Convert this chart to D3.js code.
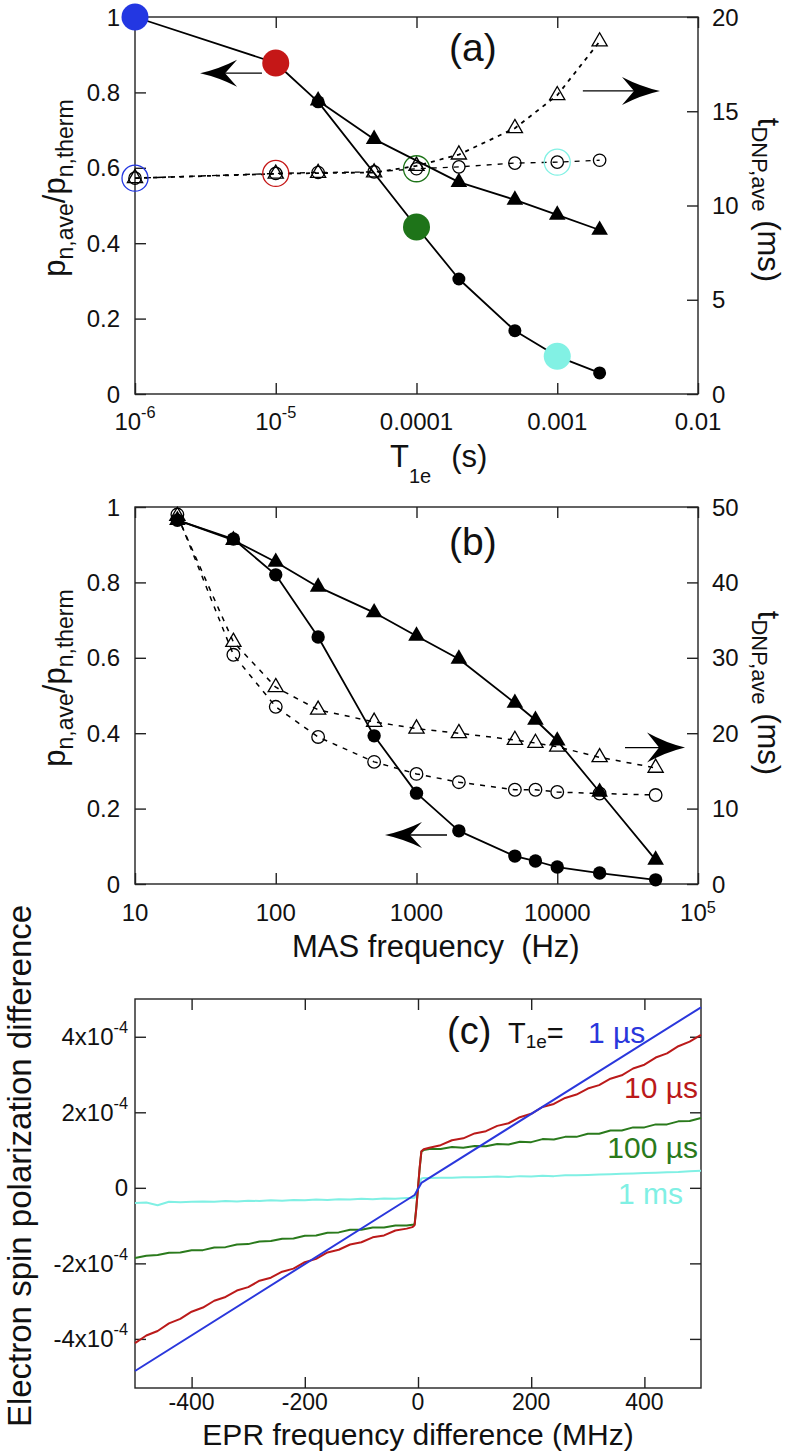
<!DOCTYPE html>
<html><head><meta charset="utf-8">
<script src="https://cdn.jsdelivr.net/npm/d3@7"></script>
<style>body{margin:0;background:#fff}</style>
</head><body><svg id="chart" width="787" height="1451"></svg>
<script>
// ---------------- Panel (a) data ----------------
const aT1eFilledCirc = [1e-6, 1e-5, 2e-5, 1e-4, 2e-4, 5e-4, 1e-3, 2e-3];
const aPnFilledCirc  = [1.0, 0.878, 0.775, 0.443, 0.305, 0.168, 0.10, 0.056];
const aT1eFilledTri  = [2e-5, 5e-5, 2e-4, 5e-4, 1e-3, 2e-3];
const aPnFilledTri   = [0.778, 0.676, 0.562, 0.515, 0.475, 0.435];
const aT1eOpen       = [1e-6, 1e-5, 2e-5, 5e-5, 1e-4, 2e-4, 5e-4, 1e-3, 2e-3];
const aTdnpOpenCirc  = [11.45, 11.7, 11.75, 11.78, 11.95, 12.05, 12.25, 12.3, 12.4];
const aTdnpOpenTri   = [11.45, 11.68, 11.72, 11.75, 12.1, 12.7, 14.1, 15.85, 18.7];
const aHighlightT1e  = [1e-6, 1e-5, 1e-4, 1e-3];
const aHighlightCol  = ["#2337e2", "#c51717", "#1e7419", "#82f1e4"];
const aXTicks = [1e-6, 1e-5, 1e-4, 1e-3, 1e-2];
const aXTickLabels = [["10","-6"], ["10","-5"], ["0.0001",""], ["0.001",""], ["0.01",""]];
const aYLTicks = [0, 0.2, 0.4, 0.6, 0.8, 1];
const aYLTickLabels = ["0", "0.2", "0.4", "0.6", "0.8", "1"];
const aYRTicks = [0, 5, 10, 15, 20];
const aYRTickLabels = ["0", "5", "10", "15", "20"];

// ---------------- Panel (b) data ----------------
const bFreq     = [20, 50, 100, 200, 500, 1000, 2000, 5000, 7000, 10000, 20000, 50000];
const bPnCirc   = [0.965, 0.915, 0.82, 0.655, 0.393, 0.241, 0.141, 0.074, 0.061, 0.045, 0.029, 0.011];
const bPnTri    = [0.965, 0.912, 0.854, 0.788, 0.72, 0.658, 0.597, 0.48, 0.435, 0.38, 0.244, 0.064];
const bTdnpTri  = [48.8, 32.1, 26.1, 23.1, 21.5, 20.6, 20.0, 19.1, 18.7, 18.2, 16.8, 15.4];
const bTdnpCirc = [49.0, 30.4, 23.5, 19.5, 16.2, 14.6, 13.5, 12.5, 12.5, 12.2, 12.0, 11.8];
const bXTicks = [10, 100, 1000, 10000, 100000];
const bXTickLabels = [["10",""], ["100",""], ["1000",""], ["10000",""], ["10","5"]];
const bYLTicks = [0, 0.2, 0.4, 0.6, 0.8, 1];
const bYLTickLabels = ["0", "0.2", "0.4", "0.6", "0.8", "1"];
const bYRTicks = [0, 10, 20, 30, 40, 50];
const bYRTickLabels = ["0", "10", "20", "30", "40", "50"];

// ---------------- Panel (c) data (units of 1e-4) ----------------
const cFreq = [-500,-480,-460,-440,-420,-400,-380,-360,-340,-320,-300,-280,-260,-240,-220,-200,-180,-160,-140,-120,-100,-80,-60,-40,-20,
               -10,-6,-3,0,3,6,10,
               20,40,60,80,100,120,140,160,180,200,220,240,260,280,300,320,340,360,380,400,420,440,460,480,500];
const cRed = [-4.11,-3.91,-3.79,-3.59,-3.47,-3.28,-3.17,-2.99,-2.89,-2.72,-2.63,-2.46,-2.38,-2.22,-2.14,-1.97,-1.88,-1.71,-1.64,-1.50,-1.44,-1.31,-1.26,-1.13,-1.08,
              -1.04,-0.99,-0.55,0.0,0.55,0.97,1.02,
              1.06,1.13,1.26,1.31,1.44,1.50,1.64,1.71,1.87,1.96,2.14,2.22,2.38,2.47,2.63,2.72,2.89,2.98,3.16,3.26,3.45,3.56,3.75,3.87,4.05];
const cGreen = [-1.86,-1.80,-1.78,-1.72,-1.71,-1.65,-1.65,-1.58,-1.57,-1.50,-1.49,-1.42,-1.41,-1.35,-1.34,-1.27,-1.26,-1.19,-1.18,-1.11,-1.11,-1.05,-1.05,-1.00,-1.00,
                -0.98,-0.96,-0.52,0.0,0.52,0.96,1.00,
                1.03,1.03,1.08,1.06,1.11,1.10,1.16,1.15,1.22,1.21,1.29,1.28,1.35,1.35,1.43,1.43,1.52,1.52,1.60,1.60,1.68,1.68,1.76,1.77,1.85];
const cCyan = [-0.40,-0.39,-0.46,-0.37,-0.38,-0.37,-0.36,-0.37,-0.35,-0.36,-0.34,-0.35,-0.33,-0.34,-0.32,-0.33,-0.31,-0.32,-0.30,-0.31,-0.29,-0.30,-0.28,-0.29,-0.27,
               -0.27,-0.26,-0.13,0.0,0.13,0.25,0.26,
               0.26,0.27,0.27,0.28,0.28,0.29,0.30,0.29,0.31,0.30,0.32,0.31,0.33,0.33,0.34,0.35,0.36,0.37,0.38,0.39,0.40,0.41,0.42,0.44,0.45];
const cBlueFreq = [-500, -6, 6, 500];
const cBlue     = [-4.85, -0.19, 0.13, 4.78];
const cXTicks = [-400, -200, 0, 200, 400];
const cXTickLabels = ["-400", "-200", "0", "200", "400"];
const cYTicks = [-4e-4, -2e-4, 0, 2e-4, 4e-4];
const cYTickLabels = [["-4x10","-4"], ["-2x10","-4"], ["0",""], ["2x10","-4"], ["4x10","-4"]];
const cTraceLabels = ["10 µs", "100 µs", "1 ms"];
const cColors = {blue:"#2a37dc", red:"#bb1a1a", green:"#2a7a1c", cyan:"#80f0e4"};

// ---------------- drawing ----------------
const F = '"Liberation Sans", Arial, Helvetica, sans-serif';
const svg = d3.select("#chart");
const INK = "#222";

const xA = d3.scaleLog().domain([1e-6, 1e-2]).range([135, 698]);
const yAL = d3.scaleLinear().domain([0, 1]).range([394, 17]);
const yAR = d3.scaleLinear().domain([0, 20]).range([394, 17]);
const xB = d3.scaleLog().domain([10, 1e5]).range([135, 698]);
const yBL = d3.scaleLinear().domain([0, 1]).range([884, 507]);
const yBR = d3.scaleLinear().domain([0, 50]).range([884, 507]);
const xC = d3.scaleLinear().domain([-500, 500]).range([135, 701]);
const yC = d3.scaleLinear().domain([-5.3e-4, 5e-4]).range([1388, 999]);

function frame(xs, ys) {
  const [x0, x1] = xs.range(), [y1, y0] = ys.range();
  svg.append("rect").attr("x", x0).attr("y", y0).attr("width", x1 - x0).attr("height", y1 - y0)
    .attr("fill", "none").attr("stroke", INK).attr("stroke-width", 1.4);
}
function ticks(axisFn, scale, vals, tx, ty) {
  svg.append("g").attr("transform", `translate(${tx},${ty})`)
    .call(axisFn(scale).tickValues(vals).tickSize(-11).tickFormat(""))
    .call(g => g.select(".domain").remove())
    .selectAll("line").attr("stroke", INK).attr("stroke-width", 1.4);
}
function label(x, y, parts, opts = {}) {
  const t = svg.append("text").attr("x", x).attr("y", y)
    .attr("font-family", F).attr("font-size", opts.fs || 24)
    .attr("text-anchor", opts.anchor || "start").attr("fill", opts.fill || "#111");
  if (opts.rotate) t.attr("transform", `rotate(${opts.rotate},${x},${y})`);
  parts.forEach(p => {
    const s = t.append("tspan").text(p.t);
    if (p.fs) s.attr("font-size", p.fs);
    if (p.dy) s.attr("dy", p.dy);
    if (p.dx) s.attr("dx", p.dx);
  });
  return t;
}
function tickLabelsX(xs, vals, labs, y, fs, supDy = -12) {
  vals.forEach((v, i) => {
    const [b, s] = labs[i];
    const parts = [{t: b}];
    if (s) parts.push({t: s, fs: fs * 0.68, dy: supDy});
    label(xs(v), y, parts, {fs, anchor: "middle"});
  });
}
function tickLabelsY(ys, vals, labs, x, anchor, fs) {
  vals.forEach((v, i) => {
    const l = labs[i];
    if (Array.isArray(l)) {
      const parts = [{t: l[0]}];
      if (l[1]) parts.push({t: l[1], fs: fs * 0.68, dy: -12});
      label(x, ys(v) + 8.5, parts, {fs, anchor});
    } else label(x, ys(v) + 8.5, [{t: l}], {fs, anchor});
  });
}
function path(xs, ys, X, Y, opts) {
  const line = d3.line().x((d, i) => xs(X[i])).y((d, i) => ys(Y[i]));
  svg.append("path").datum(X).attr("d", line).attr("fill", "none")
    .attr("stroke", opts.stroke || "#000").attr("stroke-width", opts.sw || 1.8)
    .attr("stroke-dasharray", opts.dash || null).attr("stroke-linejoin", "round");
}
function circles(xs, ys, X, Y, r, opts) {
  return svg.append("g").selectAll("circle").data(X).join("circle")
    .attr("cx", d => xs(d)).attr("cy", (d, i) => ys(Y[i])).attr("r", r)
    .attr("fill", opts.fill || "#000").attr("stroke", opts.stroke || "none").attr("stroke-width", opts.sw || 1.3);
}
function triangles(xs, ys, X, Y, size, opts) {
  const sym = d3.symbol(d3.symbolTriangle, size);
  svg.append("g").selectAll("path").data(X).join("path")
    .attr("transform", (d, i) => `translate(${xs(d)},${ys(Y[i])})`).attr("d", sym)
    .attr("fill", opts.fill || "#000").attr("stroke", opts.stroke || "none").attr("stroke-width", opts.sw || 1.3);
}
function arrow(xs, ys, xTail, xTip, yv, L, h, n) {
  const tx = xs(xTip), ty = ys(yv), x0 = xs(xTail), d = Math.sign(tx - x0);
  svg.append("line").attr("x1", x0).attr("x2", tx - d * n).attr("y1", ty).attr("y2", ty)
    .attr("stroke", "#000").attr("stroke-width", 1.3);
  const p = d3.path();
  p.moveTo(tx, ty);
  p.quadraticCurveTo(tx - d * L * 0.5, ty - h * 0.3, tx - d * L, ty - h);
  p.lineTo(tx - d * n, ty);
  p.lineTo(tx - d * L, ty + h);
  p.quadraticCurveTo(tx - d * L * 0.5, ty + h * 0.3, tx, ty);
  p.closePath();
  svg.append("path").attr("d", p.toString()).attr("fill", "#000");
}

// ===== Panel (a) =====
frame(xA, yAL);
ticks(d3.axisLeft, yAL, aYLTicks, 135, 0);
ticks(d3.axisRight, yAR, aYRTicks, 698, 0);
ticks(d3.axisBottom, xA, aXTicks, 0, 394);
ticks(d3.axisTop, xA, aXTicks, 0, 17);
tickLabelsY(yAL, aYLTicks, aYLTickLabels, 120, "end", 24);
tickLabelsY(yAR, aYRTicks, aYRTickLabels, 712, "start", 24);
tickLabelsX(xA, aXTicks, aXTickLabels, 430, 24);

path(xA, yAR, aT1eOpen, aTdnpOpenCirc, {dash: "5,6", sw: 1.4});
path(xA, yAR, aT1eOpen, aTdnpOpenTri, {dash: "4,5", sw: 1.8});
circles(xA, yAR, aT1eOpen, aTdnpOpenCirc, 6.2, {fill: "none", stroke: "#000"});
triangles(xA, yAR, aT1eOpen, aTdnpOpenTri, 100, {fill: "none", stroke: "#000"});
circles(xA, yAR, aHighlightT1e, aHighlightT1e.map(t => aTdnpOpenCirc[aT1eOpen.indexOf(t)]), 13, {fill: "none"})
  .attr("stroke", (d, i) => aHighlightCol[i]);
path(xA, yAL, aT1eFilledCirc, aPnFilledCirc, {sw: 1.8});
path(xA, yAL, aT1eFilledTri, aPnFilledTri, {sw: 1.8});
circles(xA, yAL, aT1eFilledCirc, aPnFilledCirc, 6.5, {fill: "#000"});
triangles(xA, yAL, aT1eFilledTri, aPnFilledTri, 120, {fill: "#000"});
circles(xA, yAL, aHighlightT1e, aHighlightT1e.map(t => aPnFilledCirc[aT1eFilledCirc.indexOf(t)]), 13.5, {})
  .attr("fill", (d, i) => aHighlightCol[i]);
arrow(xA, yAL, 7.98e-6, 2.9e-6, 0.851, 37, 13.5, 25);
arrow(xA, yAL, 1.52e-3, 5.37e-3, 0.804, 38, 14, 26);
label(449, 61, [{t: "(a)"}], {fs: 39});
label(65, 188, [{t: "p"}, {t: "n,ave", fs: 23, dy: 8}, {t: "/", dy: -8}, {t: "p"}, {t: "n,therm", fs: 23, dy: 8}],
      {fs: 31, anchor: "middle", rotate: -90});
label(758, 200, [{t: "t"}, {t: "DNP,ave", fs: 22, dy: 6}, {t: " (ms)", dy: -6}],
      {fs: 31, anchor: "middle", rotate: 90});
label(390, 467, [{t: "T"}, {t: "1e", fs: 20, dy: 16}, {t: "(s)", dy: -16, dx: 20}], {fs: 31});

// ===== Panel (b) =====
frame(xB, yBL);
ticks(d3.axisLeft, yBL, bYLTicks, 135, 0);
ticks(d3.axisRight, yBR, bYRTicks, 698, 0);
ticks(d3.axisBottom, xB, bXTicks, 0, 884);
ticks(d3.axisTop, xB, bXTicks, 0, 507);
tickLabelsY(yBL, bYLTicks, bYLTickLabels, 120, "end", 24);
tickLabelsY(yBR, bYRTicks, bYRTickLabels, 712, "start", 24);
tickLabelsX(xB, bXTicks, bXTickLabels, 921, 24, -8);

path(xB, yBR, bFreq, bTdnpCirc, {dash: "5,6", sw: 1.5});
path(xB, yBR, bFreq, bTdnpTri, {dash: "5,6", sw: 1.5});
circles(xB, yBR, bFreq, bTdnpCirc, 6.3, {fill: "none", stroke: "#000"});
triangles(xB, yBR, bFreq, bTdnpTri, 100, {fill: "none", stroke: "#000"});
path(xB, yBL, bFreq, bPnCirc, {sw: 1.8});
path(xB, yBL, bFreq, bPnTri, {sw: 1.8});
circles(xB, yBL, bFreq, bPnCirc, 6.7, {fill: "#000"});
triangles(xB, yBL, bFreq, bPnTri, 120, {fill: "#000"});
arrow(xB, yBL, 1648, 597, 0.13, 37, 13, 25);
arrow(xB, yBR, 30300, 80900, 18.1, 38, 15, 26);
label(449, 555, [{t: "(b)"}], {fs: 39});
label(65, 678, [{t: "p"}, {t: "n,ave", fs: 23, dy: 8}, {t: "/", dy: -8}, {t: "p"}, {t: "n,therm", fs: 23, dy: 8}],
      {fs: 31, anchor: "middle", rotate: -90});
label(758, 693, [{t: "t"}, {t: "DNP,ave", fs: 22, dy: 6}, {t: " (ms)", dy: -6}],
      {fs: 31, anchor: "middle", rotate: 90});
label(292, 957, [{t: "MAS frequency\u00a0\u00a0(Hz)"}], {fs: 31});

// ===== Panel (c) =====
frame(xC, yC);
ticks(d3.axisLeft, yC, cYTicks, 135, 0);
ticks(d3.axisRight, yC, cYTicks, 701, 0);
ticks(d3.axisBottom, xC, cXTicks, 0, 1388);
ticks(d3.axisTop, xC, cXTicks, 0, 999);
tickLabelsY(yC, cYTicks, cYTickLabels, 128, "end", 24);
tickLabelsX(xC, cXTicks, cXTickLabels.map(s => [s, ""]), 1410, 23);

const cScaled = arr => arr.map(v => v * 1e-4);
path(xC, yC, cFreq, cScaled(cCyan), {stroke: cColors.cyan, sw: 2});
path(xC, yC, cFreq, cScaled(cGreen), {stroke: cColors.green, sw: 2});
path(xC, yC, cFreq, cScaled(cRed), {stroke: cColors.red, sw: 2});
path(xC, yC, cBlueFreq, cScaled(cBlue), {stroke: cColors.blue, sw: 2});

label(447, 1044, [{t: "(c)"}], {fs: 38});
label(508, 1043, [{t: "T"}, {t: "1e", fs: 19, dy: 5}, {t: "=", dy: -5}], {fs: 29});
label(588, 1043, [{t: "1 µs"}], {fs: 30, fill: cColors.blue});
label(698, 1098, [{t: cTraceLabels[0]}], {fs: 30, anchor: "end", fill: cColors.red});
label(698, 1158, [{t: cTraceLabels[1]}], {fs: 30, anchor: "end", fill: cColors.green});
label(683, 1204, [{t: cTraceLabels[2]}], {fs: 30, anchor: "end", fill: cColors.cyan});
label(31, 1166, [{t: "Electron spin polarization difference"}], {fs: 33, anchor: "middle", rotate: -90});
label(418, 1445, [{t: "EPR frequency difference (MHz)"}], {fs: 30, anchor: "middle"});
</script></body></html>
